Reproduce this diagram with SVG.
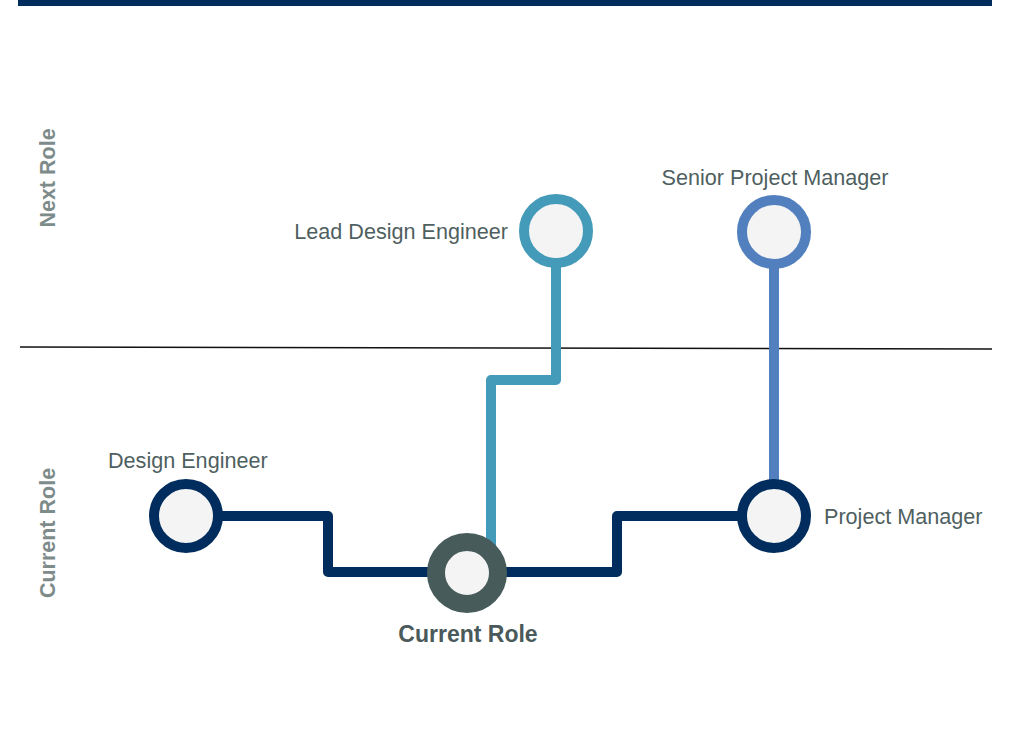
<svg xmlns="http://www.w3.org/2000/svg" width="1014" height="740" viewBox="0 0 1014 740">
<style>
.lbl{font-family:"Liberation Sans",Arial,sans-serif;font-size:21.6px;fill:#4f5f5f}
.cur{font-family:"Liberation Sans",Arial,sans-serif;font-size:23px;font-weight:bold;fill:#4a5959}
.side{font-family:"Liberation Sans",Arial,sans-serif;font-size:21.5px;font-weight:bold;fill:#7e8b8b}
.node{fill:#f4f4f4}
.conn{fill:none;stroke-width:10;stroke-linejoin:round}
</style>
<rect x="18" y="0" width="974" height="6" fill="#002d5d"/>
<line x1="20" y1="347" x2="992" y2="349" stroke="#111" stroke-width="1.5"/>
<text class="side" transform="translate(55,178) rotate(-90)" text-anchor="middle">Next Role</text>
<text class="side" transform="translate(55,533) rotate(-90)" text-anchor="middle">Current Role</text>
<g id="connectors">
<polyline class="conn" stroke="#449bb9" points="491,572 491,380 556,380 556,231"/>
<line class="conn" stroke="#5280be" x1="774" y1="231" x2="774" y2="516"/>
<polyline class="conn" stroke="#002d5d" points="186,516 328,516 328,572 467,572"/>
<polyline class="conn" stroke="#002d5d" points="467,572 617,572 617,516 774,516"/>
</g>
<g id="design-engineer">
<circle class="node" cx="186" cy="516" r="32" stroke="#002d5d" stroke-width="10"/>
<text class="lbl" x="108" y="468">Design Engineer</text>
</g>
<g id="current-role">
<circle class="node" cx="467" cy="573" r="31" stroke="#485b5b" stroke-width="18"/>
<text class="cur" x="468" y="642" text-anchor="middle">Current Role</text>
</g>
<g id="project-manager">
<circle class="node" cx="774" cy="516" r="32" stroke="#002d5d" stroke-width="10"/>
<text class="lbl" x="824" y="524">Project Manager</text>
</g>
<g id="lead-design-engineer">
<circle class="node" cx="556" cy="231" r="32" stroke="#449bb9" stroke-width="10"/>
<text class="lbl" x="508" y="239" text-anchor="end">Lead Design Engineer</text>
</g>
<g id="senior-project-manager">
<circle class="node" cx="774" cy="232" r="32" stroke="#5280be" stroke-width="10"/>
<text class="lbl" x="775" y="185" text-anchor="middle">Senior Project Manager</text>
</g>
</svg>
